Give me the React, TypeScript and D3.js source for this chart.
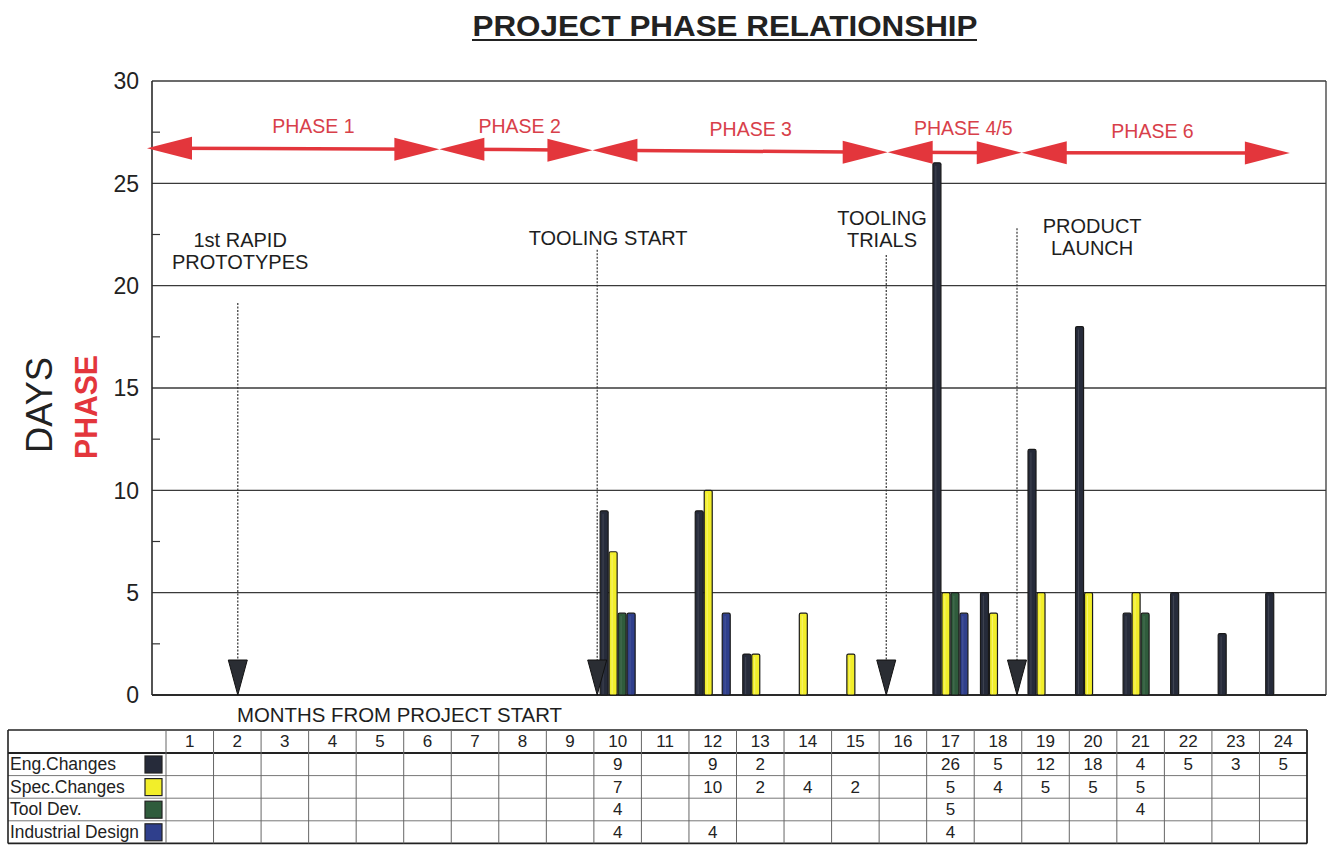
import React from 'react';
import * as d3 from 'd3';

const months = [1, 2, 3, 4, 5, 6, 7, 8, 9, 10, 11, 12, 13, 14, 15, 16, 17, 18, 19, 20, 21, 22, 23, 24];
const engChanges = [null, null, null, null, null, null, null, null, null, 9, null, 9, 2, null, null, null, 26, 5, 12, 18, 4, 5, 3, 5];
const specChanges = [null, null, null, null, null, null, null, null, null, 7, null, 10, 2, 4, 2, null, 5, 4, 5, 5, 5, null, null, null];
const toolDev = [null, null, null, null, null, null, null, null, null, 4, null, null, null, null, null, null, 5, null, null, null, 4, null, null, null];
const industrialDesign = [null, null, null, null, null, null, null, null, null, 4, null, 4, null, null, null, null, 4, null, null, null, null, null, null, null];
const seriesNames = ['Eng.Changes', 'Spec.Changes', 'Tool Dev.', 'Industrial Design'];
const seriesColors = ['#262b3a', '#f2ee2a', '#2f5c3c', '#2f3f8c'];
const yTicks = [0, 5, 10, 15, 20, 25, 30];
const yMinorTicks = [2.5, 7.5, 12.5, 17.5, 22.5, 27.5];

// phase arrows: boundaries in month-column units (0 = left edge of month 1)
const phaseNames = ['PHASE 1', 'PHASE 2', 'PHASE 3', 'PHASE 4/5', 'PHASE 6'];
const phaseBounds = [-0.4, 5.75, 8.97, 15.18, 18.0, 23.64];
const phaseBoundLevel = [26.72, 26.67, 26.62, 26.52, 26.5, 26.48];
const phaseLabelAt = [3.1, 7.44, 12.3, 16.77, 20.75];
const phaseLabelLevel = [27.45, 27.45, 27.3, 27.35, 27.2];

// milestone annotations
const milestoneLines = [['1st RAPID', 'PROTOTYPES'], ['TOOLING START'], ['TOOLING', 'TRIALS'], ['PRODUCT', 'LAUNCH']];
const milestoneAt = [1.51, 9.07, 15.15, 17.9];
const milestoneTextAt = [1.56, 9.3, 15.06, 19.48];
const milestoneTextLevel = [21.9, 22.0, 22.96, 22.57];
const milestoneLineTop = [19.15, 21.75, 21.5, 22.8];

const FONT = '"Liberation Sans", Arial, Helvetica, sans-serif';

export default function App() {
  const W = 1330, H = 845;
  const plotLeft = 152, plotRight = 1326;
  const colLeft = 166, colRight = 1307;
  const y = d3.scaleLinear().domain([0, 30]).range([695, 81]);
  const x = d3.scaleBand<number>().domain(months).range([colLeft, colRight]).paddingInner(0).paddingOuter(0);
  const colW = x.bandwidth();
  const u = (v: number) => colLeft + v * colW; // column units -> px
  const sub = d3.scaleBand<number>().domain([0, 1, 2, 3]).range([-18, 18]).padding(0);
  const allSeries = [engChanges, specChanges, toolDev, industrialDesign];

  const red = '#e3363c';
  const headH = 20;

  // table
  const tTop = 730;
  const rowH = 22.6;
  const tLeft = 8;
  const tBottom = tTop + headH + 3 + 4 * rowH;

  return (
    <svg width={W} height={H} style={{ position: 'absolute', left: 0, top: 0, background: '#fff' }} fontFamily={FONT}>
      {/* title */}
      <text x={725} y={36} textAnchor="middle" fontSize={29} fontWeight="bold" fill="#222" textLength={505} lengthAdjust="spacingAndGlyphs">PROJECT PHASE RELATIONSHIP</text>
      <line x1={472} x2={977} y1={40} y2={40} stroke="#222" strokeWidth={2} />

      {/* gridlines */}
      {yTicks.map((t) => (
        <line key={'g' + t} x1={plotLeft} x2={plotRight} y1={y(t)} y2={y(t)} stroke="#3a3a3a" strokeWidth={1.3} />
      ))}
      {/* frame */}
      <line x1={plotLeft} x2={plotLeft} y1={y(30)} y2={y(0)} stroke="#2a2a2a" strokeWidth={1.6} />
      <line x1={plotRight} x2={plotRight} y1={y(30)} y2={y(0)} stroke="#3a3a3a" strokeWidth={1.3} />
      <line x1={plotLeft} x2={plotRight} y1={y(0)} y2={y(0)} stroke="#2a2a2a" strokeWidth={1.8} />
      {yMinorTicks.map((t) => (
        <line key={'m' + t} x1={plotLeft} x2={plotLeft + 8} y1={y(t)} y2={y(t)} stroke="#333" strokeWidth={1.2} />
      ))}
      {/* y tick labels */}
      {yTicks.map((t) => (
        <text key={'l' + t} x={139} y={y(t)} dy="0.36em" textAnchor="end" fontSize={23} fill="#222">{t}</text>
      ))}
      {/* axis titles */}
      <text transform={`translate(52,405) rotate(-90)`} textAnchor="middle" fontSize={37} fill="#222" textLength={96} lengthAdjust="spacingAndGlyphs">DAYS</text>
      <text transform={`translate(97,407) rotate(-90)`} textAnchor="middle" fontSize={31} fontWeight="bold" fill={red} textLength={104} lengthAdjust="spacingAndGlyphs">PHASE</text>

      {/* bars */}
      {allSeries.map((series, si) =>
        series.map((v, mi) => {
          if (v == null) return null;
          const cx = (x(months[mi]) as number) + colW / 2;
          const bx = cx + (sub(si) as number);
          const bw = sub.bandwidth();
          return (
            <g key={`b${si}-${mi}`}>
              <rect x={bx + 0.5} y={y(v)} width={bw - 1} height={y(0) - y(v)} fill={seriesColors[si]} stroke="#1a1a1a" strokeWidth={1.2} rx={1.5} />
              <line x1={bx + bw * 0.38} x2={bx + bw * 0.38} y1={y(v) + 3} y2={y(0) - 1} stroke="#ffffff" strokeOpacity={si === 1 ? 0.35 : 0.12} strokeWidth={1} />
            </g>
          );
        })
      )}

      {/* phase arrows */}
      {phaseNames.map((name, i) => {
        const a = u(phaseBounds[i]);
        const b = u(phaseBounds[i + 1]);
        const ya = y(phaseBoundLevel[i]);
        const yb = y(phaseBoundLevel[i + 1]);
        const hl = 45, hh = 11.5;
        return (
          <g key={'p' + i}>
            <line x1={a + 10} x2={b - 10} y1={ya} y2={yb} stroke={red} strokeWidth={3.5} />
            <path d={`M${a},${ya} L${a + hl},${ya - hh} L${a + hl},${ya + hh} Z`} fill={red} />
            <path d={`M${b},${yb} L${b - hl},${yb - hh} L${b - hl},${yb + hh} Z`} fill={red} />
            <text x={u(phaseLabelAt[i])} y={y(phaseLabelLevel[i])} textAnchor="middle" fontSize={19.5} fill="#d8404a">{name}</text>
          </g>
        );
      })}

      {/* milestones */}
      {milestoneLines.map((lines, i) => {
        const lx = u(milestoneAt[i]);
        const tx = u(milestoneTextAt[i]);
        const ty = y(milestoneTextLevel[i]);
        return (
          <g key={'ms' + i}>
            {lines.map((ln, j) => (
              <text key={j} x={tx} y={ty + j * 22} textAnchor="middle" fontSize={20} fill="#1e1e1e">{ln}</text>
            ))}
            <line x1={lx} x2={lx} y1={y(milestoneLineTop[i])} y2={y(0) - 34} stroke="#333" strokeWidth={1.2} strokeDasharray="2,1.5" />
            <path d={`M${lx - 9.5},${y(0) - 35} L${lx + 9.5},${y(0) - 35} L${lx},${y(0)} Z`} fill="#2a2d33" stroke="#111" strokeWidth={1} />
          </g>
        );
      })}

      {/* x axis title */}
      <text x={237} y={722} fontSize={20} fill="#1e1e1e" textLength={325} lengthAdjust="spacingAndGlyphs">MONTHS FROM PROJECT START</text>

      {/* data table */}
      <g>
        {[0, 1, 2, 3].map((r) => {
          const ly = tTop + headH + 3 + r * rowH;
          return <line key={'h' + r} x1={tLeft} x2={colRight} y1={ly} y2={ly} stroke={r === 0 ? '#222' : '#777'} strokeWidth={r === 0 ? 1.8 : 1} />;
        })}
        <line x1={tLeft} x2={colRight} y1={tTop} y2={tTop} stroke="#222" strokeWidth={1.6} />
        <line x1={tLeft} x2={colRight} y1={tBottom} y2={tBottom} stroke="#222" strokeWidth={1.6} />
        <line x1={tLeft} x2={tLeft} y1={tTop} y2={tBottom} stroke="#222" strokeWidth={1.6} />
        <line x1={colRight} x2={colRight} y1={tTop} y2={tBottom} stroke="#222" strokeWidth={1.8} />
        {months.map((m) => (
          <line key={'v' + m} x1={x(m) as number} x2={x(m) as number} y1={tTop} y2={tBottom} stroke="#666" strokeWidth={1} />
        ))}
        {months.map((m) => (
          <text key={'mh' + m} x={(x(m) as number) + colW / 2} y={tTop + 17} textAnchor="middle" fontSize={17} fill="#222">{m}</text>
        ))}
        {seriesNames.map((name, si) => {
          const ry = tTop + headH + 3 + si * rowH;
          return (
            <g key={'row' + si}>
              <text x={10} y={ry + 17} fontSize={17.5} fill="#222" textLength={si === 3 ? 129 : undefined} lengthAdjust="spacingAndGlyphs">{name}</text>
              <rect x={145} y={ry + 3} width={17} height={17} fill={seriesColors[si]} stroke="#222" strokeWidth={1.2} />
              {allSeries[si].map((v, mi) =>
                v == null ? null : (
                  <text key={mi} x={(x(months[mi]) as number) + colW / 2} y={ry + 17} textAnchor="middle" fontSize={17} fill="#222">{v}</text>
                )
              )}
            </g>
          );
        })}
      </g>
    </svg>
  );
}
